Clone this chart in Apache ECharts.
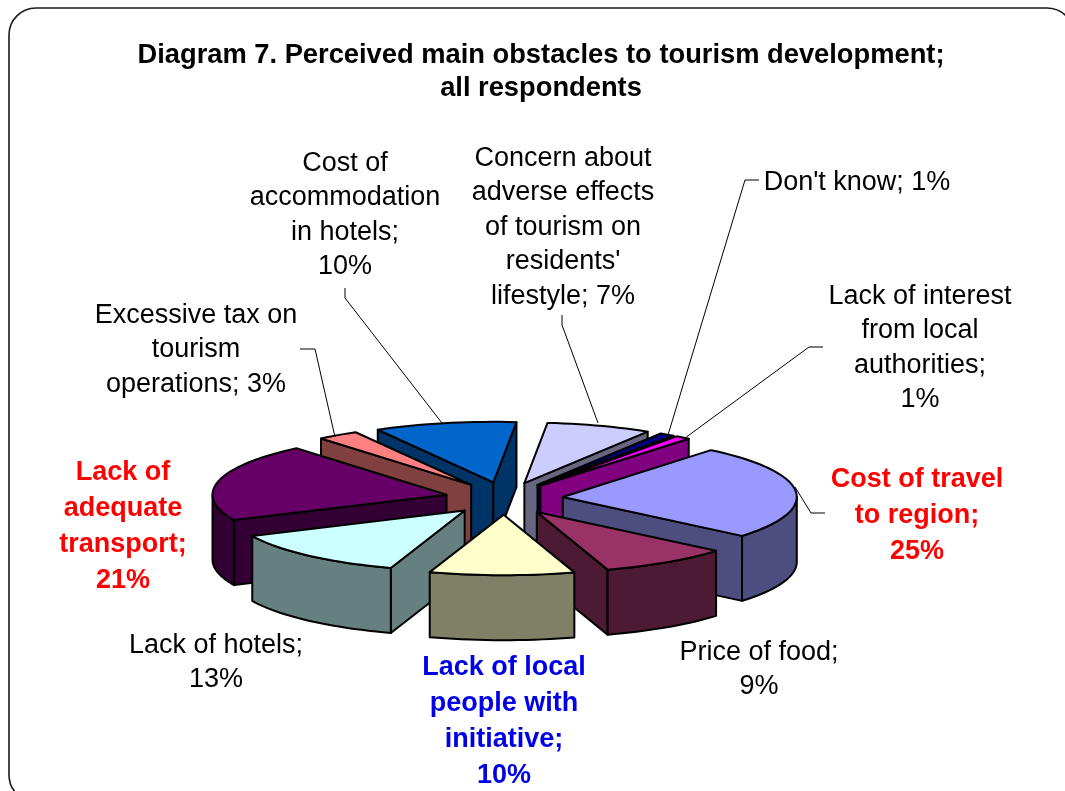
<!DOCTYPE html>
<html>
<head>
<meta charset="utf-8">
<style>html,body{margin:0;padding:0;background:#fff}#c{width:1065px;height:791px}</style>
<script src="https://cdn.jsdelivr.net/npm/echarts@6/dist/echarts.min.js"></script>
</head>
<body>
<div id="c"></div>
<script>
// ---- data ----
const titleText = 'Diagram 7. Perceived main obstacles to tourism development;\nall respondents';
const categories = [
  'Cost of travel\nto region;\n',
  'Price of food;\n',
  'Lack of local\npeople with\ninitiative;\n',
  'Lack of hotels;\n',
  'Lack of\nadequate\ntransport;\n',
  'Excessive tax on\ntourism\noperations; ',
  'Cost of\naccommodation\nin hotels;\n',
  'Concern about\nadverse effects\nof tourism on\nresidents\'\nlifestyle; ',
  "Don't know; ",
  'Lack of interest\nfrom local\nauthorities;\n'
];
const values = [25, 9, 10, 13, 21, 3, 10, 7, 1, 1];

// ---- styles and layout ----
const topColors  = ['#9999FF','#993366','#FFFFCC','#CCFFFF','#660066','#FF8080','#0066CC','#CCCCFF','#000080','#FF00FF'];
const sideColors = ['#4D4D80','#4D1A33','#808066','#668080','#330033','#804040','#003366','#666680','#000040','#800080'];
const labelColors = ['#FF0000','#000','#0000E6','#000','#FF0000','#000','#000','#000','#000','#000'];
const labelBold   = [true,false,true,false,true,false,false,false,false,false];
const labelX = [917,759,504,216,123,196,345,563,857,920];
const labelY = [479,652,667,645,472,315,163,158,182,296];
const leaderLines = [
  [[825,513],[811,513],[795,487]], null, null, null, null,
  [[300,349],[315,349],[335,437]],
  [[345,288],[345,298],[442,423]],
  [[562,315],[562,325],[598,423]],
  [[759,180],[745,180],[668,435]],
  [[823,347],[809,347],[685,438]]
];
const PIE = {cx:504, cy:498.4, rx:234, ry:60.5, depth:65, explode:59, start:40};

const rad = d => d * Math.PI / 180;
const total = values.reduce((a,b)=>a+b,0);
const startAngles = values.map((_,i)=>PIE.start + values.slice(0,i).reduce((a,b)=>a+b,0)/total*360);
const apexOf = i => {
  const mid = rad(startAngles[i] + values[i]/total*180);
  return [PIE.cx + PIE.explode*Math.sin(mid), PIE.cy - PIE.explode*(PIE.ry/PIE.rx)*1.07*Math.cos(mid)];
};
// slight perspective: angles at the far side of the pie are pulled back
const rimOf = (apex, deg) => {
  const c = Math.max(0, Math.cos(rad(deg)));
  const t = rad(deg - 2*Math.pow(c,4));
  return [apex[0] + PIE.rx*Math.sin(t), apex[1] - PIE.ry*Math.cos(t)];
};
const arc = (apex, a, b) => {
  const pts = [], n = Math.max(2, Math.ceil((b-a)/2));
  for (let k=0;k<=n;k++) pts.push(rimOf(apex, a+(b-a)*k/n));
  return pts;
};
const drop = p => [p[0], p[1]+PIE.depth];

function renderItem(params, api) {
  const i = params.dataIndex;
  const v = api.value(0);
  const a = startAngles[i], b = a + v/total*360;
  const apex = apexOf(i);
  const z = Math.round(apex[1]*10);
  const line = {stroke:'#000', lineWidth:2, lineJoin:'round'};
  const kids = [];
  const face = (points, fill, o) => kids.push({type:'polygon', z2:z+o, shape:{points},
    style:Object.assign({fill}, line)});
  if (Math.sin(rad(a)) < 0) {
    const r = rimOf(apex,a); face([apex,r,drop(r),drop(apex)], sideColors[i], 0);
  }
  if (Math.sin(rad(b)) > 0) {
    const r = rimOf(apex,b); face([apex,r,drop(r),drop(apex)], sideColors[i], 1);
  }
  // curved wall: only the part of the rim facing the viewer
  const lo = Math.max(a,90), hi = Math.min(b,270);
  if (hi > lo) {
    const p = arc(apex,lo,hi);
    face(p.concat(p.slice().reverse().map(drop)), sideColors[i], 2);
  }
  face([apex].concat(arc(apex,a,b)), topColors[i], 3);
  const bold = labelBold[i];
  kids.push({type:'text', z2:20000, style:{
    text: categories[i] + v + '%',
    x: labelX[i], y: labelY[i] - 17.25,
    align:'center', verticalAlign:'top',
    fontFamily:'Liberation Sans, Arial, sans-serif',
    fontSize: 27, fontWeight: bold ? 'bold' : 'normal',
    lineHeight: bold ? 36 : 34.6,
    fill: labelColors[i]
  }});
  if (leaderLines[i]) kids.push({type:'polyline', z2:19000, shape:{points:leaderLines[i]},
    style:{stroke:'#000', lineWidth:1, fill:null}});
  return {type:'group', children:kids};
}

const chart = echarts.init(document.getElementById('c'), null, {renderer:'canvas'});
chart.setOption({
  animation:false,
  backgroundColor:'#fff',
  title:{
    text:titleText, left:536, top:34, textAlign:'center',
    textStyle:{fontFamily:'Liberation Sans, Arial, sans-serif', fontSize:27.3, fontWeight:'bold', color:'#000', lineHeight:33}
  },
  graphic:[{type:'rect', silent:true, z:-1,
    shape:{x:9,y:8,width:1065,height:794,r:27},
    style:{fill:'#fff',stroke:'#1a1a1a',lineWidth:1.6}}],
  series:[{type:'custom', coordinateSystem:'none', silent:true, clip:false,
    renderItem, data:values.map(v=>[v])}]
});
</script>
</body>
</html>
